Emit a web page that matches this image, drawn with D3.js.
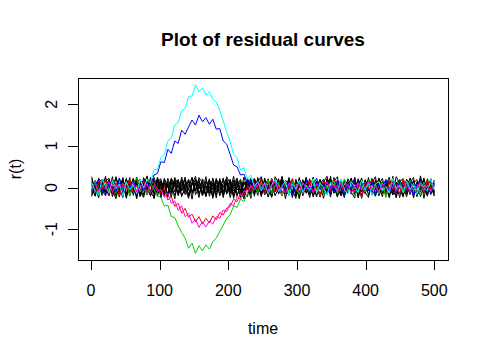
<!DOCTYPE html>
<html>
<head>
<meta charset="utf-8">
<script src="https://cdn.jsdelivr.net/npm/d3@7"></script>
<style>
  body { margin: 0; background: #fff; }
  text { font-family: "Liberation Sans", Arial, sans-serif; fill: #000; }
</style>
</head>
<body>
<div class="chart"></div>
<script>
const width = 489;
const height = 358;

// time grid: 100 evenly spaced observations over 1..500
const time = d3.range(100).map(i => 1 + i * 499 / 99);

// residual curves (black = regular curves)
const black1 = [0.12,-0.08,0.21,-0.15,0.05,0.18,-0.22,0.03,-0.11,0.16,
  -0.04,0.24,-0.19,0.08,-0.13,0.19,0.01,-0.21,0.14,-0.06,
  0.17,-0.12,0.09,-0.24,0.2,-0.02,0.13,-0.17,0.06,0.22,
  -0.09,0.15,-0.2,0.04,-0.14,0.23,-0.07,0.11,-0.18,0.1,
  0.02,-0.16,0.19,-0.1,0.25,-0.03,-0.2,0.14,0.07,-0.12,
  0.18,-0.23,0.05,0.12,-0.08,0.21,-0.15,0.0,0.16,-0.19,
  0.09,-0.05,0.2,-0.13,0.03,-0.22,0.17,-0.01,0.12,-0.16,
  0.24,-0.09,0.06,-0.18,0.15,-0.04,0.1,-0.21,0.19,-0.07,
  0.13,-0.14,0.02,0.22,-0.11,0.08,-0.25,0.16,-0.03,0.11,
  -0.17,0.2,-0.06,0.14,-0.2,0.05,0.18,-0.1,0.07,-0.13];
const black2 = [-0.1,0.17,-0.02,0.2,-0.18,0.09,0.14,-0.12,0.23,-0.05,
  0.11,-0.2,0.04,0.16,-0.09,-0.24,0.12,0.07,-0.15,0.21,
  -0.06,0.1,-0.19,0.15,0.02,-0.13,0.25,-0.08,-0.17,0.06,
  0.19,-0.03,0.12,-0.22,0.08,0.17,-0.11,-0.01,0.2,-0.16,
  0.05,0.13,-0.21,0.1,-0.07,0.18,-0.14,0.22,-0.04,0.09,
  -0.18,0.03,0.16,-0.1,0.21,-0.2,0.07,-0.06,0.14,0.01,
  -0.23,0.19,-0.12,0.11,0.04,-0.17,0.08,0.2,-0.09,0.15,
  -0.02,-0.19,0.13,0.06,-0.14,0.23,-0.07,0.1,-0.21,0.17,
  0.0,-0.11,0.18,-0.16,0.09,0.03,-0.2,0.14,0.07,-0.24,
  0.12,-0.05,0.2,-0.13,0.08,-0.02,0.16,-0.18,0.11,0.04];
const black3 = [0.05,-0.21,0.14,0.01,-0.12,0.2,-0.07,0.1,-0.17,0.24,
  -0.14,0.06,0.18,-0.23,0.11,-0.04,0.15,-0.1,-0.02,0.19,
  -0.16,0.22,0.0,-0.11,0.13,-0.2,0.08,0.17,-0.06,-0.15,
  0.1,-0.24,0.21,0.03,-0.09,0.12,-0.18,0.16,0.05,-0.13,
  0.2,-0.08,-0.01,0.15,-0.22,0.07,0.11,-0.16,0.24,-0.03,
  0.09,0.14,-0.2,0.06,-0.11,0.17,0.02,-0.19,0.1,-0.05,
  0.21,-0.14,0.0,0.18,-0.07,0.13,-0.23,0.08,-0.12,0.16,
  0.04,-0.1,0.19,-0.17,0.11,-0.01,0.14,-0.25,0.07,0.12,
  -0.19,0.22,-0.06,0.1,-0.14,0.03,0.17,-0.09,-0.2,0.15,
  0.06,-0.16,0.23,-0.04,0.12,-0.22,0.09,0.01,-0.13,0.18];
const black4 = [-0.18,0.06,-0.05,0.15,0.22,-0.14,0.02,-0.2,0.11,0.08,
  -0.23,0.16,-0.09,0.12,0.2,-0.17,-0.03,0.09,-0.12,0.25,
  0.04,-0.2,0.15,-0.07,0.1,0.18,-0.22,0.01,0.13,-0.1,
  -0.04,0.2,-0.15,0.07,0.16,-0.19,0.05,-0.08,0.23,-0.12,
  0.14,-0.02,0.09,-0.24,0.12,0.03,-0.16,0.19,-0.11,0.06,
  -0.09,0.21,-0.14,0.1,-0.01,-0.2,0.17,0.08,-0.18,0.13,
  0.02,-0.15,0.22,-0.06,0.14,0.09,-0.21,0.05,-0.1,0.18,
  -0.13,0.07,0.16,-0.2,0.03,-0.08,0.24,-0.12,0.11,0.0,
  0.19,-0.17,0.06,-0.03,0.15,-0.22,0.1,0.13,-0.08,-0.15,
  0.2,0.01,-0.11,0.17,-0.19,0.12,-0.04,0.07,0.15,-0.2];
const black5 = [0.2,-0.02,0.1,-0.19,0.07,-0.1,0.16,0.0,-0.23,0.13,
  0.05,-0.08,0.22,-0.14,0.02,0.11,-0.18,0.24,-0.06,-0.12,
  0.15,0.03,-0.16,0.2,-0.1,0.06,-0.03,0.19,-0.21,0.12,
  0.08,-0.13,0.02,-0.2,0.18,-0.05,0.14,-0.16,0.09,0.21,
  -0.11,0.17,-0.06,0.04,-0.19,0.23,-0.09,0.0,0.13,-0.22,
  0.11,-0.04,0.08,0.19,-0.15,0.03,-0.1,0.24,-0.13,0.07,
  -0.17,0.12,0.05,-0.24,0.16,-0.01,0.09,-0.14,0.21,-0.08,
  0.1,0.17,-0.2,0.02,-0.06,0.13,-0.16,0.19,-0.1,0.04,
  -0.07,0.15,-0.21,0.08,0.22,-0.12,0.0,-0.17,0.11,0.18,
  -0.09,0.13,0.03,-0.2,0.06,0.16,-0.14,0.21,-0.05,0.1];
const black6 = [-0.06,0.13,-0.16,0.08,-0.02,-0.2,0.19,-0.09,0.04,-0.14,
  0.2,0.0,-0.11,0.23,-0.17,0.07,-0.05,0.14,0.18,-0.21,
  0.09,-0.13,0.22,-0.01,-0.18,0.15,-0.07,0.03,0.2,-0.11,
  0.13,0.06,-0.19,0.16,-0.03,-0.1,0.22,-0.2,0.01,0.14,
  -0.15,0.08,0.12,-0.05,-0.17,0.16,0.02,-0.12,0.19,-0.18,
  0.04,-0.21,0.13,-0.07,0.17,0.1,-0.16,0.05,-0.24,0.2,
  -0.1,0.03,-0.06,0.21,-0.19,0.11,-0.02,0.15,-0.13,0.0,
  0.18,-0.22,0.09,0.14,-0.1,0.06,-0.18,0.01,0.23,-0.15,
  0.07,0.19,-0.13,-0.04,0.1,-0.18,0.16,-0.07,0.02,0.2,
  -0.12,0.08,-0.17,0.11,0.19,-0.06,0.03,-0.21,0.14,-0.09];
const black7 = [0.26,-0.1,-0.18,0.04,0.15,0.22,-0.06,-0.27,0.09,0.13,
  -0.16,-0.03,0.2,0.1,-0.22,0.05,0.28,-0.12,-0.08,0.17,
  -0.25,0.12,0.01,-0.14,0.24,0.07,-0.19,-0.05,0.16,-0.28,
  0.2,0.03,-0.11,0.26,-0.21,0.08,-0.02,0.18,-0.24,0.11,
  -0.07,0.27,-0.15,-0.09,0.14,0.02,-0.26,0.21,0.06,-0.17,
  0.23,-0.13,0.1,-0.2,0.0,0.25,-0.08,-0.18,0.15,0.04,
  -0.27,0.16,0.09,-0.12,0.22,-0.04,-0.2,0.13,0.27,-0.1,
  0.05,-0.23,0.18,-0.01,0.12,-0.16,0.24,-0.09,-0.21,0.19,
  -0.05,0.1,0.26,-0.2,0.03,-0.13,0.17,0.08,-0.25,0.14,
  0.21,-0.11,-0.03,0.16,-0.22,0.28,-0.07,0.12,-0.17,0.05];
const black8 = [-0.22,0.14,0.05,-0.09,0.27,-0.18,0.1,0.21,-0.04,-0.24,
  0.18,0.0,-0.13,0.25,-0.06,-0.19,0.12,0.2,-0.27,0.08,
  0.15,-0.1,-0.21,0.23,0.04,-0.15,0.19,-0.02,-0.26,0.13,
  -0.08,0.24,0.11,-0.17,0.03,-0.23,0.2,0.07,-0.12,0.26,
  0.1,-0.2,0.16,-0.05,-0.28,0.12,0.22,-0.11,0.01,-0.16,
  0.19,0.08,-0.24,0.14,-0.07,0.27,-0.13,0.03,0.2,-0.21,
  0.11,-0.02,0.25,-0.17,-0.09,0.16,0.06,-0.26,0.13,0.22,
  -0.14,0.02,-0.2,0.18,0.09,-0.11,-0.25,0.21,0.0,-0.08,
  0.24,-0.18,0.12,0.05,-0.22,0.17,-0.03,-0.14,0.26,0.1,
  -0.19,0.07,0.2,-0.25,0.14,-0.06,0.23,-0.12,0.02,-0.2];
const black9 = [0.15,0.03,-0.25,0.19,-0.08,0.1,-0.16,0.26,-0.01,-0.2,
  0.22,-0.12,0.07,-0.27,0.16,0.11,-0.05,-0.18,0.24,0.0,
  -0.09,0.2,-0.23,0.06,0.17,-0.14,-0.01,0.25,-0.2,0.09,
  0.27,-0.16,0.05,-0.07,0.21,-0.26,0.14,0.02,-0.19,0.18,
  -0.24,0.06,0.23,-0.14,0.1,-0.03,0.19,-0.21,0.15,0.26,
  -0.06,-0.19,0.22,0.0,-0.12,0.14,-0.27,0.19,0.04,-0.1,
  0.24,-0.2,0.07,0.15,-0.23,0.02,0.2,-0.08,-0.17,0.27,
  -0.11,0.13,-0.03,-0.24,0.21,0.06,-0.14,0.16,-0.26,0.09,
  0.18,-0.07,-0.2,0.23,-0.1,0.05,0.25,-0.18,0.12,-0.02,
  -0.23,0.19,0.08,-0.15,0.02,0.22,-0.26,0.1,0.16,-0.11];
const black10 = [-0.03,-0.2,0.22,0.12,-0.15,-0.05,0.26,-0.17,0.06,0.2,
  -0.26,0.09,-0.02,0.17,-0.2,0.24,0.04,-0.11,-0.24,0.14,
  0.21,-0.18,0.06,0.12,-0.27,0.19,-0.09,0.1,-0.04,0.25,
  -0.17,0.01,0.16,-0.21,0.13,0.08,-0.25,0.22,-0.1,-0.02,
  0.18,-0.26,0.04,0.2,-0.12,-0.22,0.15,0.09,-0.19,0.24,
  -0.14,0.06,-0.22,0.26,0.11,-0.16,0.0,0.21,-0.07,-0.26,
  0.17,0.08,-0.14,-0.03,0.25,-0.2,0.12,-0.1,0.19,-0.23,
  0.14,0.26,-0.16,-0.07,0.04,0.22,-0.19,0.1,0.15,-0.12,
  -0.24,0.2,0.02,-0.17,0.13,-0.05,-0.2,0.27,-0.09,0.16,
  0.03,-0.22,0.12,0.24,-0.18,-0.1,0.17,-0.03,0.21,-0.15];

// outlying curves
const redCurve = [0.08,-0.12,0.15,-0.05,0.19,-0.17,0.02,0.12,-0.2,0.1,
  -0.04,0.21,-0.13,0.06,-0.09,0.17,-0.15,0.05,0.13,-0.07,
  -0.12,-0.02,-0.3,-0.22,-0.45,-0.38,-0.62,-0.5,-0.72,-0.64,
  -0.82,-0.7,-0.88,-0.74,-0.85,-0.68,-0.78,-0.6,-0.66,-0.5,
  -0.46,-0.28,-0.34,-0.14,-0.2,0.02,-0.1,0.12,-0.06,0.18,
  -0.15,0.07,0.2,-0.11,0.04,-0.19,0.14,-0.02,0.22,-0.08,
  0.11,-0.16,0.03,0.18,-0.13,0.09,-0.21,0.15,0.0,-0.1,
  0.2,-0.06,0.12,-0.18,0.07,0.16,-0.11,0.04,-0.23,0.13,
  -0.03,0.19,-0.14,0.08,0.1,-0.2,0.17,-0.05,0.02,-0.15,
  0.21,-0.09,0.14,-0.17,0.05,0.11,-0.12,0.18,-0.04,0.09];
const greenCurve = [-0.1,0.16,-0.19,0.04,0.12,-0.08,0.2,-0.14,0.07,-0.03,
  0.14,-0.18,0.09,0.23,-0.11,0.02,-0.16,0.1,-0.05,-0.2,
  -0.24,-0.45,-0.42,-0.7,-0.72,-0.92,-1.08,-1.22,-1.46,-1.34,
  -1.58,-1.4,-1.52,-1.38,-1.48,-1.3,-1.22,-1.06,-0.9,-0.74,
  -0.66,-0.44,-0.48,-0.28,-0.34,-0.14,-0.2,0.02,-0.12,0.1,
  -0.06,0.18,-0.15,0.05,0.12,-0.2,0.08,-0.1,0.15,-0.02,
  -0.17,0.11,0.04,-0.12,0.2,-0.07,0.13,-0.19,0.06,0.01,
  0.16,-0.14,-0.03,0.21,-0.09,0.07,-0.22,0.12,0.03,-0.11,
  0.18,-0.05,0.09,-0.16,0.14,-0.24,0.06,0.11,-0.08,0.2,
  -0.13,0.02,0.17,-0.1,0.08,-0.18,0.13,-0.02,0.1,-0.07];
const blueCurve = [-0.14,0.09,0.18,-0.06,-0.2,0.13,0.01,-0.1,0.22,-0.15,
  0.06,-0.03,0.17,-0.18,0.1,-0.08,0.14,0.04,0.3,0.34,
  0.62,0.6,0.92,0.82,1.12,1.06,1.38,1.28,1.46,1.62,
  1.5,1.74,1.58,1.68,1.52,1.64,1.4,1.42,1.12,1.04,
  0.8,0.54,0.5,0.3,0.32,0.1,0.18,-0.04,0.12,-0.1,
  0.15,-0.12,0.05,0.2,-0.16,0.08,-0.04,0.13,-0.19,0.11,
  0.02,-0.09,0.18,-0.13,0.07,0.22,-0.06,0.1,-0.17,0.04,
  -0.11,0.16,0.01,-0.2,0.12,-0.05,0.19,-0.14,0.08,0.03,
  -0.08,0.14,-0.18,0.1,0.0,0.2,-0.12,0.06,-0.15,0.17,
  0.04,-0.1,0.12,-0.21,0.09,0.15,-0.07,0.02,-0.13,0.11];
const cyanCurve = [0.11,-0.07,-0.18,0.2,0.03,-0.13,0.16,-0.02,0.09,-0.21,
  0.14,-0.05,0.06,-0.15,0.19,0.0,0.18,0.12,0.42,0.44,
  0.72,0.8,1.12,1.18,1.5,1.56,1.84,1.9,2.18,2.2,
  2.47,2.3,2.4,2.22,2.3,2.12,2.06,1.85,1.6,1.34,
  1.1,0.8,0.72,0.42,0.48,0.2,0.3,0.02,0.14,-0.08,
  0.12,-0.16,0.07,0.19,-0.1,0.03,0.15,-0.2,0.09,-0.03,
  0.17,-0.12,0.05,-0.07,0.21,-0.15,0.1,0.0,-0.18,0.13,
  0.06,-0.1,0.2,-0.04,-0.16,0.14,0.02,-0.12,0.18,-0.06,
  0.1,-0.19,0.08,0.15,-0.09,0.03,-0.14,0.22,-0.02,0.07,
  -0.12,0.16,-0.05,0.1,-0.17,0.12,0.0,-0.09,0.19,-0.04];
const magentaCurve = [0.02,0.1,-0.09,0.05,-0.04,0.14,-0.12,0.07,0.0,0.11,
  -0.07,0.04,0.12,-0.1,0.06,-0.02,0.09,-0.13,0.03,-0.08,
  -0.04,-0.24,-0.14,-0.38,-0.32,-0.55,-0.44,-0.7,-0.62,-0.86,
  -0.76,-0.96,-0.82,-0.95,-0.8,-0.88,-0.7,-0.74,-0.54,-0.58,
  -0.38,-0.44,-0.22,-0.28,-0.08,-0.12,0.04,-0.06,0.1,-0.02,
  0.08,-0.11,0.05,0.13,-0.06,0.02,-0.14,0.1,0.0,0.07,
  -0.09,0.12,-0.03,0.06,-0.12,0.09,0.01,-0.07,0.14,-0.04,
  0.05,-0.1,0.11,-0.02,0.08,-0.13,0.03,0.1,-0.06,0.0,
  0.13,-0.08,0.04,-0.11,0.09,0.02,-0.05,0.12,-0.09,0.06,
  -0.02,0.1,-0.12,0.07,0.0,0.11,-0.07,0.04,-0.1,0.08];

const xTicks = [0, 100, 200, 300, 400, 500];
const yTicks = [-1, 0, 1, 2];

// curves in drawing order (matplot style: black first, colours on top)
const blacks = [black1, black2, black3, black4, black5, black6, black7, black8, black9, black10];
const curves = blacks.map(v => ({values: v, color: "#000000"})).concat([
  {values: redCurve, color: "#FF0000"},
  {values: greenCurve, color: "#00CD00"},
  {values: blueCurve, color: "#0000FF"},
  {values: cyanCurve, color: "#00FFFF"},
  {values: magentaCurve, color: "#FF00FF"}
]);

const plot = {left: 78, right: 448, top: 78, bottom: 260};

const svg = d3.select(".chart")
  .append("svg")
  .attr("width", width)
  .attr("height", height);

// R style 4% padding on both scales
const xPad = (500 - 1) * 0.04;
const x = d3.scaleLinear()
  .domain([1 - xPad, 500 + xPad])
  .range([plot.left, plot.right]);

const allVals = curves.flatMap(c => c.values);
const [yMin, yMax] = d3.extent(allVals);
const yPad = (yMax - yMin) * 0.04;
const y = d3.scaleLinear()
  .domain([yMin - yPad, yMax + yPad])
  .range([plot.bottom, plot.top]);

const line = d3.line()
  .x((d, i) => x(time[i]))
  .y(d => y(d));

svg.append("g")
  .selectAll("path")
  .data(curves)
  .join("path")
  .attr("d", d => line(d.values))
  .attr("fill", "none")
  .attr("stroke", d => d.color)
  .attr("stroke-width", 1);

// box
svg.append("rect")
  .attr("x", plot.left + 0.5)
  .attr("y", plot.top + 0.5)
  .attr("width", plot.right - plot.left)
  .attr("height", plot.bottom - plot.top)
  .attr("fill", "none")
  .attr("stroke", "#000");

// x axis
const xAxis = svg.append("g");
xAxis.selectAll("line")
  .data(xTicks)
  .join("line")
  .attr("x1", d => Math.round(x(d)) + 0.5)
  .attr("x2", d => Math.round(x(d)) + 0.5)
  .attr("y1", plot.bottom)
  .attr("y2", plot.bottom + 10)
  .attr("stroke", "#000");
xAxis.selectAll("text")
  .data(xTicks)
  .join("text")
  .attr("x", d => x(d))
  .attr("y", 296)
  .attr("text-anchor", "middle")
  .style("font-size", "16px")
  .text(d => d);

// y axis
const yAxis = svg.append("g");
yAxis.selectAll("line")
  .data(yTicks)
  .join("line")
  .attr("y1", d => Math.round(y(d)) + 0.5)
  .attr("y2", d => Math.round(y(d)) + 0.5)
  .attr("x1", plot.left - 10)
  .attr("x2", plot.left)
  .attr("stroke", "#000");
yAxis.selectAll("text")
  .data(yTicks)
  .join("text")
  .attr("transform", d => `translate(57,${y(d)}) rotate(-90)`)
  .attr("text-anchor", "middle")
  .style("font-size", "16px")
  .text(d => d);

// titles
svg.append("text")
  .attr("x", (plot.left + plot.right) / 2)
  .attr("y", 46)
  .attr("text-anchor", "middle")
  .style("font-size", "19px")
  .style("font-weight", "bold")
  .text("Plot of residual curves");

svg.append("text")
  .attr("x", (plot.left + plot.right) / 2)
  .attr("y", 334)
  .attr("text-anchor", "middle")
  .style("font-size", "16px")
  .text("time");

svg.append("text")
  .attr("transform", `translate(20.5,${(plot.top + plot.bottom) / 2}) rotate(-90)`)
  .attr("text-anchor", "middle")
  .style("font-size", "16px")
  .text("r(t)");
</script>
</body>
</html>
